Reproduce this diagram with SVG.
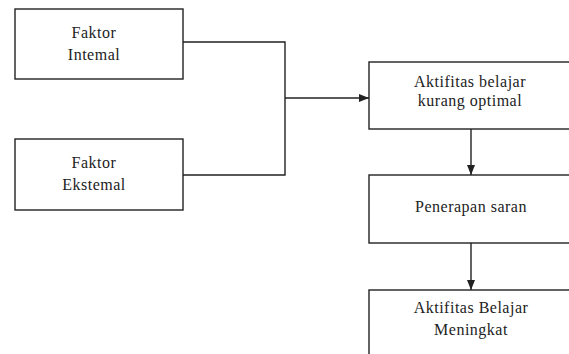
<svg xmlns="http://www.w3.org/2000/svg" width="569" height="354" viewBox="0 0 569 354">
<style>
.box{fill:#fff;stroke:#222;stroke-width:1.4}
.t{font-family:"Liberation Serif","Times New Roman",serif;font-size:16px;fill:#222;text-anchor:middle;letter-spacing:0.5px}
.c{fill:none;stroke:#222;stroke-width:1.4}
</style>
<defs>
<marker id="ah" viewBox="0 0 10 10" refX="10" refY="5" markerWidth="10" markerHeight="10" markerUnits="userSpaceOnUse" orient="auto">
<path d="M0,1 L10,5 L0,9 Z" fill="#222"/>
</marker>
</defs>
<rect width="569" height="354" fill="#fff"/>
<g id="faktor-internal">
<rect class="box" x="15" y="9" width="168" height="70"/>
<text class="t" x="94" y="38">Faktor</text>
<text class="t" x="94" y="60">Intemal</text>
</g>
<g id="faktor-eksternal">
<rect class="box" x="15" y="139" width="168" height="71"/>
<text class="t" x="94" y="168">Faktor</text>
<text class="t" x="94" y="190">Ekstemal</text>
</g>
<g id="aktifitas-kurang">
<rect class="box" x="369" y="62" width="210" height="67"/>
<text class="t" x="470" y="87">Aktifitas belajar</text>
<text class="t" x="470" y="106">kurang optimal</text>
</g>
<g id="penerapan-saran">
<rect class="box" x="369" y="175" width="210" height="68"/>
<text class="t" x="471" y="212">Penerapan saran</text>
</g>
<g id="aktifitas-meningkat">
<rect class="box" x="369" y="290" width="210" height="80"/>
<text class="t" x="471" y="313">Aktifitas Belajar</text>
<text class="t" x="471" y="335">Meningkat</text>
</g>
<g id="connectors">
<path class="c" d="M183,42 H285 V175 H183"/>
<path class="c" d="M285,98 H369" marker-end="url(#ah)"/>
<path class="c" d="M471,129 V175" marker-end="url(#ah)"/>
<path class="c" d="M471,243 V290" marker-end="url(#ah)"/>
</g>
</svg>
